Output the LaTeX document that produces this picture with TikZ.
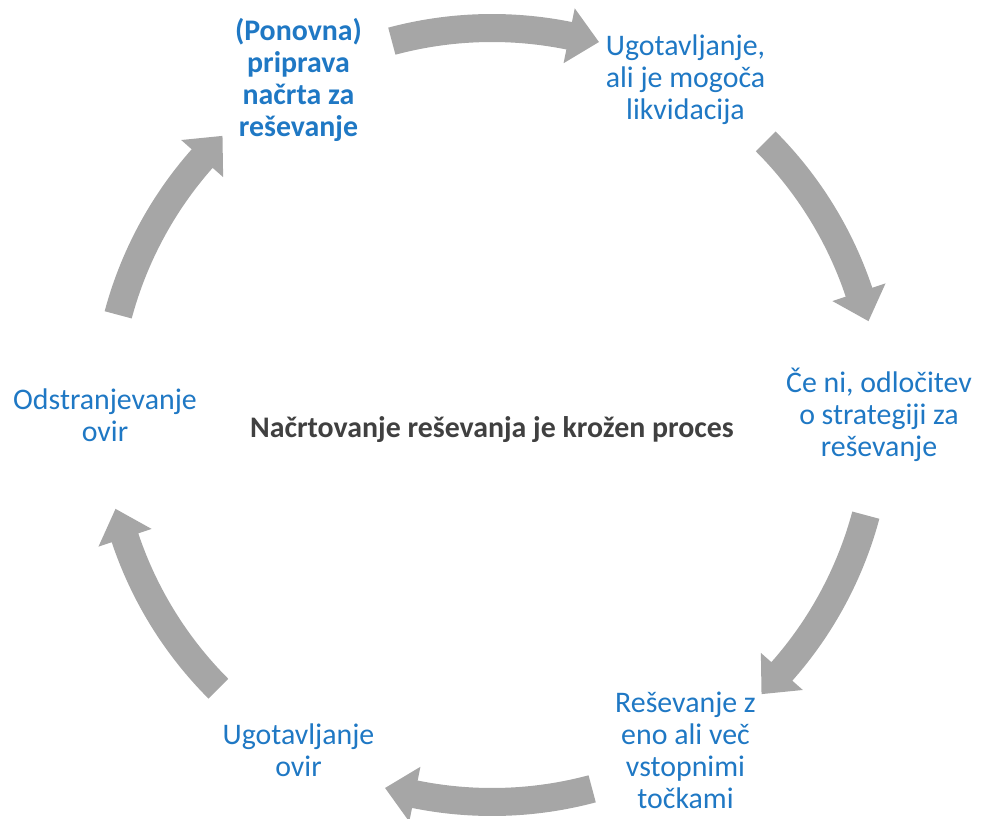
\documentclass[tikz,border=0pt]{standalone}
\usepackage{fontspec}
\setmainfont{Carlito}
\usepackage{tikz}
\usetikzlibrary{calc}
\definecolor{stepblue}{HTML}{1F78C4}
\definecolor{arrowgray}{HTML}{A6A6A6}
\definecolor{centergray}{HTML}{404040}

\begin{document}
\begin{tikzpicture}[
  x=0.02cm,y=0.02cm,
  stage/.style={text=stepblue, align=center, inner sep=1pt,
                font=\fontsize{17}{18.2}\selectfont},
  stagebold/.style={stage, font=\fontsize{17}{18.2}\selectfont\bfseries},
  hub/.style={text=centergray, font=\fontsize{17}{18.2}\selectfont\bfseries},
  ring/.style={fill=arrowgray, draw=none}
]
  \useasboundingbox (-492,-403) rectangle (490,415);
  \coordinate (c) at (0,0);

  % stages round the cycle
  \node[stagebold] (s1) at (120:387) {(Ponovna)\\priprava\\načrta za\\reševanje};
  \node[stage] (s2) at (60:387) {Ugotavljanje,\\ali je mogoča\\likvidacija};
  \node[stage] (s3) at (0:387) {Če ni, odločitev\\o strategiji za\\reševanje};
  \node[stage] (s4) at (-60:387) {Reševanje z\\eno ali več\\vstopnimi\\točkami};
  \node[stage] (s5) at (-120:387) {Ugotavljanje\\ovir};
  \node[stage] (s6) at (180:387) {Odstranjevanje\\ovir};

  \node[hub] (hub) at (0,-15) {Načrtovanje reševanja je krožen proces};

  % curved arrows between the stages
  \foreach \a in {120,60,0,-60,-120,-180} {
    \pgfmathsetmacro{\st}{\a-15}
    \pgfmathsetmacro{\hb}{\a-41.5}
    \pgfmathsetmacro{\tp}{\a-46}
    \fill[ring] (\st:401) arc[start angle=\st, end angle=\hb, radius=401]
      -- (\hb:415) -- (\tp:388) -- (\hb:359) -- (\hb:373)
      arc[start angle=\hb, end angle=\st, radius=373] -- cycle;
  }
\end{tikzpicture}
\end{document}
